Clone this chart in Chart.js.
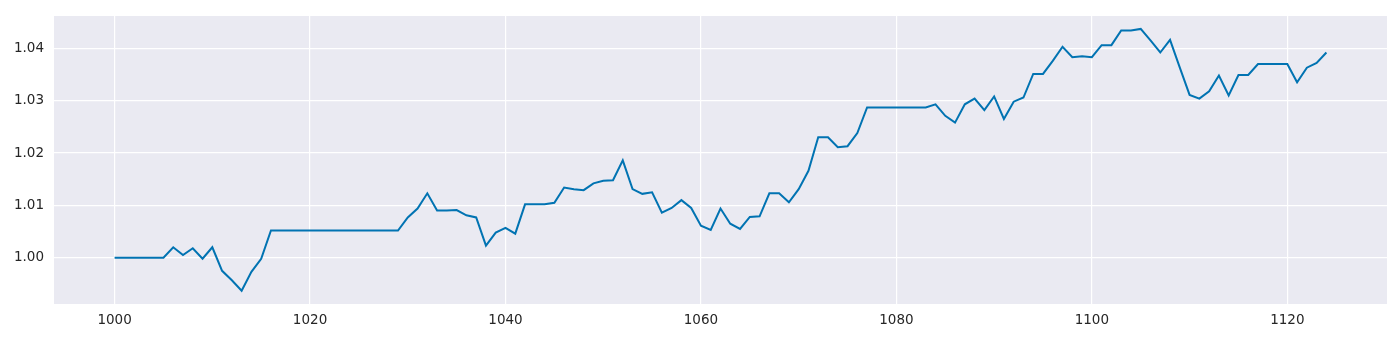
<!DOCTYPE html>
<html>
<head>
<meta charset="utf-8">
<script src="https://cdn.jsdelivr.net/npm/chart.js@4.4.1/dist/chart.umd.min.js"></script>
<style>
  html, body { margin: 0; padding: 0; background: #fff; }
  #myChart { display: block; }
</style>
</head>
<body>
<canvas id="myChart" width="1400" height="344"></canvas>
<script>
// x positions 1000..1124
const steps = [
  1000, 1001, 1002, 1003, 1004, 1005, 1006, 1007, 1008, 1009,
  1010, 1011, 1012, 1013, 1014, 1015, 1016, 1017, 1018, 1019,
  1020, 1021, 1022, 1023, 1024, 1025, 1026, 1027, 1028, 1029,
  1030, 1031, 1032, 1033, 1034, 1035, 1036, 1037, 1038, 1039,
  1040, 1041, 1042, 1043, 1044, 1045, 1046, 1047, 1048, 1049,
  1050, 1051, 1052, 1053, 1054, 1055, 1056, 1057, 1058, 1059,
  1060, 1061, 1062, 1063, 1064, 1065, 1066, 1067, 1068, 1069,
  1070, 1071, 1072, 1073, 1074, 1075, 1076, 1077, 1078, 1079,
  1080, 1081, 1082, 1083, 1084, 1085, 1086, 1087, 1088, 1089,
  1090, 1091, 1092, 1093, 1094, 1095, 1096, 1097, 1098, 1099,
  1100, 1101, 1102, 1103, 1104, 1105, 1106, 1107, 1108, 1109,
  1110, 1111, 1112, 1113, 1114, 1115, 1116, 1117, 1118, 1119,
  1120, 1121, 1122, 1123, 1124
];

const values = [
  1.0000, 1.0000, 1.0000, 1.0000, 1.0000, 1.0000, 1.0020, 1.0005, 1.0018, 0.9998,
  1.0020, 0.9975, 0.9957, 0.9937, 0.9973, 0.9998, 1.0052, 1.0052, 1.0052, 1.0052,
  1.0052, 1.0052, 1.0052, 1.0052, 1.0052, 1.0052, 1.0052, 1.0052, 1.0052, 1.0052,
  1.0077, 1.0094, 1.0123, 1.0090, 1.0090, 1.0091, 1.0081, 1.0077, 1.0023, 1.0048,
  1.0057, 1.0046, 1.0102, 1.0102, 1.0102, 1.0105, 1.0134, 1.0131, 1.0129, 1.0142,
  1.0147, 1.0148, 1.0186, 1.0131, 1.0122, 1.0125, 1.0086, 1.0095, 1.0110, 1.0095,
  1.0061, 1.0053, 1.0094, 1.0065, 1.0055, 1.0078, 1.0079, 1.0123, 1.0123, 1.0106,
  1.0131, 1.0166, 1.0230, 1.0230, 1.0211, 1.0213, 1.0238, 1.0287, 1.0287, 1.0287,
  1.0287, 1.0287, 1.0287, 1.0287, 1.0293, 1.0271, 1.0258, 1.0293, 1.0304, 1.0282,
  1.0308, 1.0265, 1.0298, 1.0306, 1.0351, 1.0351, 1.0376, 1.0403, 1.0383, 1.0385,
  1.0383, 1.0406, 1.0406, 1.0434, 1.0434, 1.0437, 1.0415, 1.0392, 1.0416, 1.0363,
  1.0311, 1.0304, 1.0318, 1.0348, 1.0310, 1.0349, 1.0349, 1.0370, 1.0370, 1.0370,
  1.0370, 1.0335, 1.0363, 1.0372, 1.0392
];

const xTicks = [1000, 1020, 1040, 1060, 1080, 1100, 1120];
const yTicks = [1.00, 1.01, 1.02, 1.03, 1.04];

// seaborn-ish plot background
const plotBg = {
  id: "plotBg",
  beforeDraw(chart) {
    const { ctx, chartArea: a } = chart;
    ctx.save();
    ctx.fillStyle = "#eaeaf2";
    ctx.fillRect(a.left, a.top, a.right - a.left, a.bottom - a.top);
    ctx.restore();
  },
};

const data = {
  datasets: [
    {
      data: steps.map((x, i) => ({ x: x, y: values[i] })),
      borderColor: "#0173b2",
      borderWidth: 2,
      pointRadius: 0,
      fill: false,
      tension: 0,
    },
  ],
};

const tickFont = { family: "DejaVu Sans", size: 13.5 };

const config = {
  type: "line",
  data: data,
  options: {
    responsive: false,
    animation: false,
    devicePixelRatio: 1,
    layout: { autoPadding: false, padding: { top: 16, right: 13, left: 0, bottom: 0 } },
    plugins: {
      legend: { display: false },
      tooltip: { enabled: false },
    },
    scales: {
      x: {
        type: "linear",
        min: 993.8,
        max: 1130.2,
        afterBuildTicks: (axis) => {
          axis.ticks = xTicks.map((v) => ({ value: v }));
        },
        afterFit: (axis) => {
          axis.height = 40;
          axis.paddingLeft = 0;
          axis.paddingRight = 0;
        },
        ticks: {
          color: "#262626",
          font: tickFont,
          padding: 8,
          maxRotation: 0,
          callback: (v) => String(v),
        },
        grid: { color: "#ffffff", lineWidth: 1.2, drawTicks: false },
        border: { display: false },
      },
      y: {
        min: 0.99116,
        max: 1.04617,
        afterBuildTicks: (axis) => {
          axis.ticks = yTicks.map((v) => ({ value: v }));
        },
        afterFit: (axis) => {
          axis.width = 54;
          // tick padding would otherwise push the plot top down
          axis.paddingTop = 0;
          axis.paddingBottom = 0;
        },
        ticks: {
          color: "#262626",
          font: tickFont,
          padding: 10,
          callback: (v) => v.toFixed(2),
        },
        grid: { color: "#ffffff", lineWidth: 1.2, drawTicks: false },
        border: { display: false },
      },
    },
  },
  plugins: [plotBg],
};

const ctx = document.getElementById("myChart").getContext("2d");
new Chart(ctx, config);
</script>
</body>
</html>
